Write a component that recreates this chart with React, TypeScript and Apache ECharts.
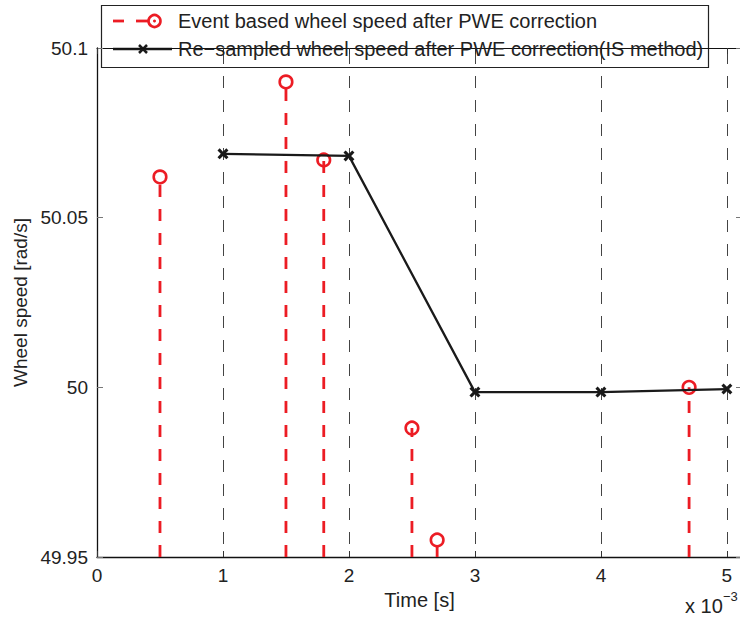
import React, { useEffect, useRef } from "react";
import * as echarts from "echarts";

// Event-based samples (time in s, wheel speed in rad/s)
const eventTimes = [0.0005, 0.0015, 0.0018, 0.0025, 0.0027, 0.0047];
const eventSpeeds = [50.062, 50.09, 50.067, 49.988, 49.955, 50.0];

// Re-sampled series (IS method)
const resampleTimes = [0.001, 0.002, 0.003, 0.004, 0.005];
const resampleSpeeds = [50.0688, 50.0682, 49.9986, 49.9986, 49.9995];

const legendNames = [
  "Event based wheel speed after PWE correction",
  "Re\u2212sampled wheel speed after PWE correction(IS method)",
];

const X_MIN = 0;
const X_MAX = 0.00512;
const X_STEP = 0.001;
const Y_MIN = 49.95;
const Y_MAX = 50.1;
const Y_STEP = 0.05;

const RED = "#ec1c24";
const BLACK = "#1a1a1a";
const FONT = '"Liberation Sans", Arial, Helvetica, sans-serif';

const crossPath =
  "path://M2,0L5,3L8,0L10,2L7,5L10,8L8,10L5,7L2,10L0,8L3,5L0,2Z";

export default function App() {
  const ref = useRef<HTMLDivElement>(null);

  useEffect(() => {
    if (!ref.current) return;
    const chart = echarts.init(ref.current, undefined, { renderer: "svg" });

    const xFmt = (v: number) => {
      const k = v * 1000;
      return Math.abs(k - Math.round(k)) < 1e-6 ? String(Math.round(k)) : "";
    };
    const yFmt = (v: number) => String(Number(v.toFixed(2)));

    const baseX = {
      type: "value" as const,
      min: X_MIN,
      max: X_MAX,
      interval: X_STEP,
    };
    const baseY = {
      type: "value" as const,
      min: Y_MIN,
      max: Y_MAX,
      interval: Y_STEP,
    };

    const textAt = (text: string, x: number, y: number, size: number) => ({
      type: "text",
      z: 100,
      style: {
        text,
        x,
        y,
        align: "left",
        verticalAlign: "middle",
        textAlign: "left",
        textVerticalAlign: "middle",
        font: `${size}px ${FONT}`,
        fill: "#222",
      },
    });

    chart.setOption({
      animation: false,
      backgroundColor: "#ffffff",
      grid: {
        left: 97,
        top: 48,
        width: 645,
        height: 509,
        containLabel: false,
        outerBoundsMode: "none",
      },
      xAxis: [
        {
          ...baseX,
          position: "bottom",
          name: "Time [s]",
          nameLocation: "middle",
          nameGap: 26,
          nameTextStyle: { fontFamily: FONT, fontSize: 20, color: "#222" },
          axisLine: { show: true, onZero: false, lineStyle: { color: "#111", width: 1.3 } },
          axisTick: { show: true, inside: true, length: 6, lineStyle: { color: "#333" } },
          axisLabel: {
            formatter: xFmt,
            margin: 9,
            fontFamily: FONT,
            fontSize: 19,
            color: "#222",
          },
          splitLine: {
            show: true,
            lineStyle: { color: "#444", width: 1, type: [12, 12], dashOffset: 20 },
          },
        },
        {
          ...baseX,
          position: "top",
          axisLine: { show: true, onZero: false, lineStyle: { color: "#111", width: 1 } },
          axisTick: { show: true, inside: true, length: 6, lineStyle: { color: "#333" } },
          axisLabel: { show: false },
          splitLine: { show: false },
        },
      ],
      yAxis: [
        {
          ...baseY,
          position: "left",
          name: "Wheel speed [rad/s]",
          nameLocation: "middle",
          nameGap: 61,
          nameTextStyle: { fontFamily: FONT, fontSize: 19, color: "#222" },
          axisLine: { show: true, onZero: false, lineStyle: { color: "#111", width: 1.3 } },
          axisTick: { show: true, inside: true, length: 6, lineStyle: { color: "#777" } },
          axisLabel: {
            formatter: yFmt,
            margin: 9,
            fontFamily: FONT,
            fontSize: 19,
            color: "#222",
          },
          splitLine: { show: false },
        },
        {
          ...baseY,
          position: "right",
          axisLine: { show: true, onZero: false, lineStyle: { color: "#111", width: 1 } },
          axisTick: { show: true, inside: true, length: 6, lineStyle: { color: "#777" } },
          axisLabel: { show: false },
          splitLine: { show: false },
        },
      ],
      series: [
        {
          name: legendNames[0],
          type: "custom",
          xAxisIndex: 0,
          yAxisIndex: 0,
          clip: false,
          z: 3,
          data: eventTimes.map((t, i) => [t, eventSpeeds[i]]),
          renderItem: (params: any, api: any) => {
            const t = api.value(0);
            const v = api.value(1);
            const top = api.coord([t, v]);
            const base = api.coord([t, Y_MIN]);
            return {
              type: "group",
              children: [
                {
                  type: "line",
                  shape: { x1: base[0], y1: base[1], x2: top[0], y2: top[1] },
                  style: { stroke: RED, lineWidth: 2.8, lineDash: [12, 12] },
                },
                {
                  type: "circle",
                  shape: { cx: top[0], cy: top[1], r: 6.3 },
                  style: { fill: "none", stroke: RED, lineWidth: 2.6 },
                },
              ],
            };
          },
        },
        {
          name: legendNames[1],
          type: "line",
          xAxisIndex: 0,
          yAxisIndex: 0,
          z: 4,
          data: resampleTimes.map((t, i) => [t, resampleSpeeds[i]]),
          lineStyle: { color: BLACK, width: 2.3 },
          itemStyle: { color: BLACK },
          symbol: crossPath,
          symbolSize: 11,
          showSymbol: true,
        },
      ],
      graphic: [
        {
          type: "group",
          z: 100,
          children: [
            {
              type: "rect",
              shape: { x: 101.5, y: 5.5, width: 607, height: 62 },
              style: { fill: "#ffffff", stroke: "#222", lineWidth: 1.2 },
            },
            {
              type: "line",
              shape: { x1: 113, y1: 21, x2: 124, y2: 21 },
              style: { stroke: RED, lineWidth: 2.8 },
            },
            {
              type: "line",
              shape: { x1: 136, y1: 21, x2: 148, y2: 21 },
              style: { stroke: RED, lineWidth: 2.8 },
            },
            {
              type: "circle",
              shape: { cx: 154.5, cy: 21, r: 6 },
              style: { fill: "none", stroke: RED, lineWidth: 2.6 },
            },
            {
              type: "circle",
              shape: { cx: 154.5, cy: 21, r: 1.5 },
              style: { fill: RED },
            },
            textAt(legendNames[0], 178, 21, 20),
            {
              type: "line",
              shape: { x1: 113, y1: 49, x2: 172, y2: 49 },
              style: { stroke: BLACK, lineWidth: 2.5 },
            },
            {
              type: "line",
              shape: { x1: 139, y1: 45, x2: 147, y2: 53 },
              style: { stroke: BLACK, lineWidth: 2.5 },
            },
            {
              type: "line",
              shape: { x1: 147, y1: 45, x2: 139, y2: 53 },
              style: { stroke: BLACK, lineWidth: 2.5 },
            },
            textAt(legendNames[1], 178, 49, 20),
          ],
        },
        textAt("x 10", 685, 606, 20),
        textAt("\u22123", 723, 596, 13),
      ],
    });

    return () => chart.dispose();
  }, []);

  return (
    <div
      ref={ref}
      style={{ position: "absolute", left: 0, top: 0, width: 740, height: 622 }}
    />
  );
}
